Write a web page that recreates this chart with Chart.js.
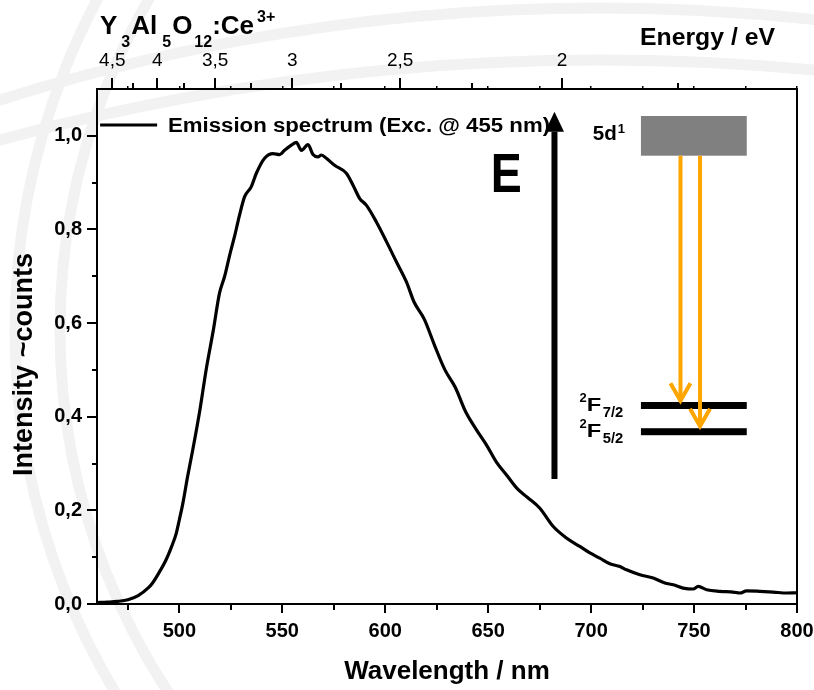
<!DOCTYPE html>
<html>
<head>
<meta charset="utf-8">
<title>YAG:Ce emission</title>
<script src="https://cdn.jsdelivr.net/npm/chart.js@4.4.1/dist/chart.umd.min.js"></script>
<style>
  html, body { margin: 0; padding: 0; background: #fff; }
  #box { width: 814px; height: 690px; }
</style>
</head>
<body>
<div id="box"><canvas id="emissionChart" width="814" height="690"></canvas></div>
<script>
// emission spectrum, wavelength in nm, normalised intensity
const wavelength = [
  460, 465, 470, 475, 480, 485, 487, 490, 493.5, 496, 498.5, 500, 501.7, 504, 506.5,
  510, 513, 516.5, 519.5, 522, 524.6, 526.8, 529.2, 531.7, 534.9, 537.4, 541.4, 545.5, 548.7,
  551.1, 554.4, 556.8, 559.3, 562.5, 564.9, 567.3, 569, 571.4, 575.4, 581.1, 584.3,
  587.6, 590.8, 595.7, 600.6, 605.4, 610.3, 614, 619, 624, 629, 634, 639, 644, 649,
  654, 659, 664, 669, 675, 681.5, 688, 694.5, 699.4, 704.2, 709.1, 714, 717.2, 723.7,
  730.2, 735.8, 739.9, 744.7, 749.6, 752, 756.1, 762.6, 769, 772.3, 775.5, 782, 788.5,
  795, 800
];
const intensity = [
  0.003, 0.004, 0.0055, 0.009, 0.018, 0.035, 0.045, 0.066, 0.094, 0.12, 0.151, 0.18, 0.215, 0.272, 0.329,
  0.415, 0.50, 0.585, 0.664, 0.70, 0.748, 0.785, 0.83, 0.870, 0.891, 0.920, 0.952, 0.962, 0.960,
  0.969, 0.980, 0.986, 0.969, 0.981, 0.960, 0.955, 0.959, 0.952, 0.937, 0.920, 0.895,
  0.866, 0.852, 0.816, 0.774, 0.731, 0.688, 0.645, 0.608, 0.552, 0.500, 0.463, 0.411, 0.374, 0.341,
  0.303, 0.275, 0.247, 0.228, 0.205, 0.166, 0.141, 0.123, 0.109, 0.098, 0.086, 0.080, 0.073, 0.0625,
  0.0555, 0.045, 0.041, 0.034, 0.032, 0.0375, 0.0305, 0.027, 0.0255, 0.0235, 0.028, 0.027, 0.0255,
  0.0235, 0.024
];

// axis ticks
const wavelengthMajor = [500, 550, 600, 650, 700, 750, 800];
const wavelengthMinor = [475, 525, 575, 625, 675, 725, 775];
const intensityMajor = [0, 0.2, 0.4, 0.6, 0.8, 1.0];
const intensityMinor = [0.1, 0.3, 0.5, 0.7, 0.9];
const energyMajor = [4.5, 4, 3.5, 3, 2.5, 2];
const energyMinor = [4.25, 3.75, 3.25, 2.75, 2.25, 1.75];
const energyRange = [4.70, 1.55];   // eV at left / right edge of the top axis

const FONT = "'Liberation Sans', Arial, Helvetica, sans-serif";
const ORANGE = '#ffa500';

// level scheme, in data units of the plot (nm, intensity)
const scheme = {
  arrowE: { x: 682.2, from: 0.267, head: 1.0088, tip: 1.0515 },
  letterE: { x: 651.2, y: 0.8806 },
  band5d: { x0: 724.2, x1: 775.6, y0: 0.9575, y1: 1.0423 },
  label5d: { x: 700.8, y: 0.991 },
  levels: [
    { name: '7/2', y: 0.424, labelY: 0.4122, decay: 743.4, tip: 0.4321 },
    { name: '5/2', y: 0.368, labelY: 0.356, decay: 752.9, tip: 0.3774 }
  ],
  levelX: [724.2, 775.6],
  levelLabelX: 694.3,
  legend: { x0: 461.5, x1: 489.2, y: 1.0231, textX: 494.5, textY: 1.0075 }
};

function fmtComma(v, digits) {
  return v.toFixed(digits).replace('.', ',');
}

function fixedTicks(values) {
  return (scale) => { scale.ticks = values.map(v => ({ value: v })); };
}

// draws text, optionally squeezed/stretched to a given width; returns right edge
function drawText(ctx, str, x, y, font, width) {
  ctx.font = font;
  const w = ctx.measureText(str).width;
  if (width) {
    ctx.save();
    ctx.translate(x, y);
    ctx.scale(width / w, 1);
    ctx.fillText(str, 0, 0);
    ctx.restore();
    return x + width;
  }
  ctx.fillText(str, x, y);
  return x + w;
}

function tickOnly(extra) {
  return Object.assign({
    display: true,
    ticks: { display: false },
    border: { display: false }
  }, extra);
}

// faint background rings: [cx, cy, r]
const rings = [
  [720, 330, 660], [720, 330, 705],
  [600, 2010, 2002], [600, 2350, 2290]
];

const decor = {
  id: 'decor',
  beforeDraw(chart) {
    const ctx = chart.ctx;
    ctx.save();
    ctx.fillStyle = '#fff';
    ctx.fillRect(0, 0, chart.width, chart.height);
    ctx.strokeStyle = '#f2f2f2';
    ctx.lineWidth = 11;
    for (const [cx, cy, r] of rings) {
      ctx.beginPath();
      ctx.arc(cx, cy, r, 0, Math.PI * 2);
      ctx.stroke();
    }
    ctx.restore();
  },
  afterDatasetsDraw(chart) {
    const ctx = chart.ctx;
    const sx = chart.scales.x, sy = chart.scales.y;
    const px = v => sx.getPixelForValue(v);
    const py = v => sy.getPixelForValue(v);
    ctx.save();
    ctx.fillStyle = '#000';
    ctx.textBaseline = 'alphabetic';
    ctx.textAlign = 'left';

    // legend entry
    const lg = scheme.legend;
    const ds = chart.data.datasets[0];
    ctx.strokeStyle = ds.borderColor;
    ctx.lineWidth = 3;
    ctx.beginPath();
    ctx.moveTo(px(lg.x0), py(lg.y));
    ctx.lineTo(px(lg.x1), py(lg.y));
    ctx.stroke();
    drawText(ctx, ds.label, px(lg.textX), py(lg.textY), 'bold 20px ' + FONT, 382);

    // energy arrow
    const a = scheme.arrowE;
    const ax = px(a.x);
    ctx.fillRect(ax - 3, py(a.head), 6, py(a.from) - py(a.head));
    ctx.beginPath();
    ctx.moveTo(ax - 9.5, py(a.head));
    ctx.lineTo(ax + 9.5, py(a.head));
    ctx.lineTo(ax, py(a.tip));
    ctx.closePath();
    ctx.fill();
    drawText(ctx, 'E', px(scheme.letterE.x), py(scheme.letterE.y), 'bold 56px ' + FONT, 31);

    // 5d band
    const b = scheme.band5d;
    ctx.fillStyle = '#808080';
    ctx.fillRect(px(b.x0), py(b.y1), px(b.x1) - px(b.x0), py(b.y0) - py(b.y1));
    ctx.fillStyle = '#000';
    const tx = drawText(ctx, '5d', px(scheme.label5d.x), py(scheme.label5d.y), 'bold 21px ' + FONT, 24);
    drawText(ctx, '1', tx + 1, py(scheme.label5d.y) - 7, 'bold 13px ' + FONT);

    // 4f ground levels with labels
    const [lx0, lx1] = scheme.levelX;
    for (const lv of scheme.levels) {
      ctx.fillStyle = '#000';
      ctx.fillRect(px(lx0), py(lv.y) - 3.5, px(lx1) - px(lx0), 7);
      const x0 = px(scheme.levelLabelX), base = py(lv.labelY);
      drawText(ctx, '2', x0, base - 9, 'bold 13px ' + FONT);
      drawText(ctx, 'F', x0 + 7.4, base, 'bold 18px ' + FONT, 14.5);
      drawText(ctx, lv.name, x0 + 23.4, base + 5.7, 'bold 14px ' + FONT, 20.5);
    }

    // orange decay arrows
    ctx.strokeStyle = ORANGE;
    ctx.lineWidth = 4;
    ctx.lineJoin = 'miter';
    for (const lv of scheme.levels) {
      const x = px(lv.decay), yTip = py(lv.tip);
      ctx.beginPath();
      ctx.moveTo(x, py(b.y0));
      ctx.lineTo(x, yTip - 2);
      ctx.stroke();
      ctx.beginPath();
      ctx.moveTo(x - 10, yTip - 18.5);
      ctx.lineTo(x, yTip - 1);
      ctx.lineTo(x + 10, yTip - 18.5);
      ctx.stroke();
    }
    ctx.restore();
  },
  afterDraw(chart) {
    const ctx = chart.ctx;
    ctx.save();
    ctx.fillStyle = '#000';
    ctx.textBaseline = 'alphabetic';
    ctx.textAlign = 'left';

    // compound formula Y3Al5O12:Ce3+
    const big = 'bold 26px ' + FONT, small = 'bold 16px ' + FONT;
    let x = 100;
    x = drawText(ctx, 'Y', x, 33.5, big);
    x = drawText(ctx, '3', x + 4, 47, small);
    x = drawText(ctx, 'Al', x + 1, 33.5, big);
    x = drawText(ctx, '5', x + 5, 47, small);
    x = drawText(ctx, 'O', x + 1, 33.5, big);
    x = drawText(ctx, '12', x + 2, 47, small);
    x = drawText(ctx, ':Ce', x, 33.5, big);
    drawText(ctx, '3+', x + 3, 21.7, small);

    // top axis caption
    drawText(ctx, 'Energy / eV', 640, 45, 'bold 23px ' + FONT, 135);

    // left axis caption
    ctx.translate(32, 364.5);
    ctx.rotate(-Math.PI / 2);
    ctx.textAlign = 'center';
    ctx.font = 'bold 27px ' + FONT;
    ctx.fillText('Intensity ~counts', 0, 0);
    ctx.restore();
  }
};

const eMin = 1 / energyRange[0], eMax = 1 / energyRange[1];
const gridTicks = (len, w) => ({ display: true, drawOnChartArea: false, drawTicks: true, tickLength: len, color: '#000', lineWidth: w, tickWidth: w });

new Chart(document.getElementById('emissionChart'), {
  type: 'line',
  data: {
    datasets: [{
      label: 'Emission spectrum (Exc. @ 455 nm)',
      data: wavelength.map((w, i) => ({ x: w, y: intensity[i] })),
      borderColor: '#000',
      borderWidth: 3.2,
      pointRadius: 0,
      cubicInterpolationMode: 'monotone',
      fill: false
    }]
  },
  options: {
    responsive: false,
    animation: false,
    devicePixelRatio: 1,
    layout: { padding: { left: 0, right: 17, top: 0, bottom: 0 } },
    plugins: { legend: { display: false }, tooltip: { enabled: false } },
    scales: {
      x: {
        type: 'linear', position: 'bottom', min: 460, max: 800,
        afterBuildTicks: fixedTicks(wavelengthMajor),
        afterFit: s => { s.height = 86; s.paddingLeft = 0; s.paddingRight = 0; },
        ticks: { autoSkip: false, maxRotation: 0, padding: 6, color: '#000', font: { family: FONT, size: 20, weight: 'bold' } },
        grid: gridTicks(9, 2),
        border: { display: true, color: '#000', width: 2 },
        title: { display: true, text: 'Wavelength / nm', color: '#000', font: { family: FONT, size: 26, weight: 'bold' }, padding: { top: 0, bottom: 3 } }
      },
      xMinor: tickOnly({
        type: 'linear', axis: 'x', position: { y: 0 }, min: 460, max: 800,
        afterBuildTicks: fixedTicks(wavelengthMinor),
        grid: gridTicks(6, 2)
      }),
      xTop: tickOnly({
        type: 'linear', axis: 'x', position: { y: 1.1 }, min: 460, max: 800,
        afterBuildTicks: fixedTicks(wavelengthMinor.concat(wavelengthMajor)),
        grid: gridTicks(-3, 1.5)
      }),
      x2: {
        type: 'linear', axis: 'x', position: 'top', min: eMin, max: eMax,
        afterBuildTicks: fixedTicks(energyMajor.map(e => 1 / e)),
        afterFit: s => { s.height = 89; s.paddingLeft = 0; s.paddingRight = 0; },
        ticks: {
          autoSkip: false, maxRotation: 0, padding: 6, color: '#000',
          font: { family: FONT, size: 19, weight: 'normal' },
          callback: v => String(Math.round(100 / v) / 100).replace('.', ',')
        },
        grid: gridTicks(11, 2),
        border: { display: true, color: '#000', width: 2 }
      },
      x2Minor: tickOnly({
        type: 'linear', axis: 'x', position: { y: 1.1 }, min: eMin, max: eMax,
        afterBuildTicks: fixedTicks(energyMinor.map(e => 1 / e)),
        grid: gridTicks(-6, 2)
      }),
      y: {
        type: 'linear', position: 'left', min: 0, max: 1.1,
        afterBuildTicks: fixedTicks(intensityMajor),
        afterFit: s => { s.width = 97; },
        ticks: { autoSkip: false, padding: 5, color: '#000', font: { family: FONT, size: 20, weight: 'bold' }, callback: v => fmtComma(v, 1) },
        grid: gridTicks(10, 2),
        border: { display: true, color: '#000', width: 2 }
      },
      yMinor: tickOnly({
        type: 'linear', axis: 'y', position: { x: 460 }, min: 0, max: 1.1,
        afterBuildTicks: fixedTicks(intensityMinor),
        grid: gridTicks(5, 2)
      }),
      y2: {
        type: 'linear', axis: 'y', position: 'right', min: 0, max: 1.1,
        afterFit: s => { s.width = 0; },
        ticks: { display: false },
        grid: { display: false },
        border: { display: true, color: '#000', width: 2 }
      }
    }
  },
  plugins: [decor]
});
</script>
</body>
</html>
